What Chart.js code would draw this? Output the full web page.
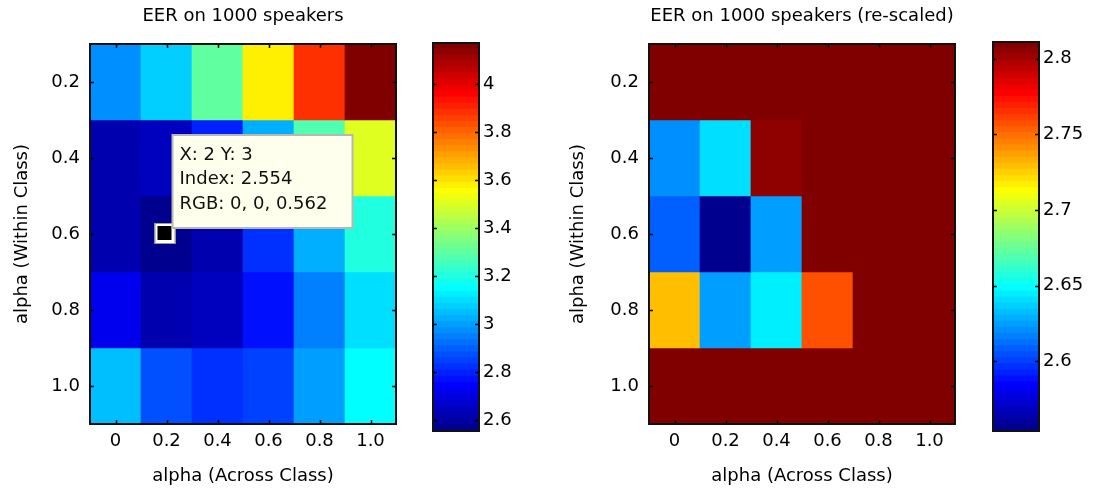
<!DOCTYPE html>
<html>
<head>
<meta charset="utf-8">
<title>EER on 1000 speakers</title>
<script src="https://cdn.jsdelivr.net/npm/chart.js@4.4.1/dist/chart.umd.min.js"></script>
<style>
  html, body { margin: 0; padding: 0; background: #fff; }
  #wrap { position: relative; width: 1093px; height: 491px; overflow: hidden; }
  .box { position: absolute; top: 0; height: 491px; }
</style>
</head>
<body>
<div id="wrap">
  <div class="box" style="left:0;width:420px"><canvas id="eer"></canvas></div>
  <div class="box" style="left:420px;width:120px"><canvas id="eerBar"></canvas></div>
  <div class="box" style="left:540px;width:440px"><canvas id="scaled"></canvas></div>
  <div class="box" style="left:980px;width:113px"><canvas id="scaledBar"></canvas></div>
</div>
<script>
// columns: alpha (Across Class), rows: alpha (Within Class)
const acrossLabels = ['0', '0.2', '0.4', '0.6', '0.8', '1.0'];
const withinValues = [0.2, 0.4, 0.6, 0.8, 1.0];
const withinLabels = ['0.2', '0.4', '0.6', '0.8', '1.0'];

// EER values, one array per alpha (Within Class) row
const eerWithin02 = [2.971, 3.060, 3.300, 3.580, 3.881, 4.172];
const eerWithin04 = [2.620, 2.640, 2.805, 3.010, 3.262, 3.490];
const eerWithin06 = [2.608, 2.554, 2.624, 2.825, 3.020, 3.190];
const eerWithin08 = [2.729, 2.624, 2.646, 2.757, 2.946, 3.085];
const eerWithin10 = [3.035, 2.860, 2.830, 2.850, 2.984, 3.148];

// colour limits and colorbar ticks
const fullLimits = [2.554, 4.172];
const scaledLimits = [2.554, 2.811];
const fullBarTicks = [2.6, 2.8, 3, 3.2, 3.4, 3.6, 3.8, 4];
const scaledBarTicks = [2.6, 2.65, 2.7, 2.75, 2.8];

// data tip on the left map
const tipCell = [1, 2]; // column, row
const tipLines = ['X: 2 Y: 3', 'Index: 2.554', 'RGB: 0, 0, 0.562'];

const rows = [eerWithin02, eerWithin04, eerWithin06, eerWithin08, eerWithin10];
const FONT = { family: '"DejaVu Sans", sans-serif', size: 18, weight: 'normal' };

// matlab jet(64)
function jet64(i) {
    const u = k => (k < 1 || k > 47) ? 0 : k <= 16 ? k / 16 : k <= 31 ? 1 : (48 - k) / 16;
    return [u(i - 24), u(i - 8), u(i + 8)];
}
function rgb(c) {
    return 'rgb(' + c.map(x => Math.round(x * 255)).join(',') + ')';
}
function colorFor(v, lim) {
    let i = Math.floor((v - lim[0]) / (lim[1] - lim[0]) * 64) + 1;
    i = Math.max(1, Math.min(64, i));
    return rgb(jet64(i));
}

// box round the axes + inward tick marks on all sides
const framePlugin = {
    id: 'frame',
    afterDatasetsDraw(chart) {
        const { ctx, chartArea: a } = chart;
        const L = 4;
        ctx.save();
        ctx.strokeStyle = '#000';
        ctx.lineWidth = 1.5;
        ctx.beginPath();
        Object.values(chart.scales).forEach(s => {
            if (!s.options.display) return;
            s.ticks.forEach((t, i) => {
                const p = Math.round(s.getPixelForTick(i)) + 0.5;
                if (s.isHorizontal()) {
                    ctx.moveTo(p, a.bottom); ctx.lineTo(p, a.bottom - L);
                    ctx.moveTo(p, a.top); ctx.lineTo(p, a.top + L);
                } else {
                    ctx.moveTo(a.left, p); ctx.lineTo(a.left + L, p);
                    ctx.moveTo(a.right, p); ctx.lineTo(a.right - L, p);
                }
            });
        });
        ctx.stroke();
        ctx.lineWidth = 2;
        ctx.strokeStyle = '#111';
        ctx.strokeRect(a.left, a.top, a.right - a.left, a.bottom - a.top);
        ctx.restore();
    }
};

const tipPlugin = {
    id: 'tip',
    afterDraw(chart) {
        const { ctx } = chart;
        const x = chart.scales.x.getPixelForValue(tipCell[0]);
        const y = chart.scales.y.getPixelForValue(withinValues[tipCell[1]]);
        ctx.save();
        // marker
        ctx.fillStyle = '#fffff0';
        ctx.fillRect(x - 12, y - 11, 21, 21);
        ctx.strokeStyle = '#9a9a90';
        ctx.lineWidth = 1;
        ctx.strokeRect(x - 11.5, y - 10.5, 20, 20);
        ctx.fillStyle = '#000';
        ctx.fillRect(x - 9, y - 8, 14, 14);
        // box
        const bx = x + 6, by = y - 99, bw = 180, bh = 93;
        ctx.fillStyle = '#ffffee';
        ctx.fillRect(bx, by, bw, bh);
        ctx.strokeStyle = '#b8b8b0';
        ctx.lineWidth = 2;
        ctx.strokeRect(bx, by, bw, bh);
        ctx.fillStyle = '#111';
        ctx.font = '18px "DejaVu Sans", sans-serif';
        ctx.textBaseline = 'middle';
        tipLines.forEach((line, i) => ctx.fillText(line, bx + 7, by + 20 + i * 24.5));
        ctx.restore();
    }
};

function heatmap(id, title, lim, yWidth, padRight, yTitlePad, extra) {
    return new Chart(document.getElementById(id), {
        type: 'bar',
        data: {
            labels: acrossLabels,
            datasets: rows.map((row, r) => ({
                data: row.map(() => [withinValues[r] - 0.1, withinValues[r] + 0.1]),
                backgroundColor: row.map(v => colorFor(v, lim)),
                grouped: false,
                barPercentage: 1,
                categoryPercentage: 1,
                borderWidth: 0
            }))
        },
        options: {
            responsive: true,
            maintainAspectRatio: false,
            animation: false,
            events: [],
            layout: { padding: { left: 0, right: padRight, top: 0, bottom: 0 } },
            plugins: {
                legend: { display: false },
                tooltip: { enabled: false },
                title: {
                    display: true, text: title, color: '#000', font: FONT,
                    fullSize: false, padding: { top: 6, bottom: 16.4 }
                }
            },
            scales: {
                x: {
                    type: 'category',
                    offset: true,
                    grid: { display: false, drawTicks: false },
                    border: { display: false },
                    ticks: { color: '#000', font: FONT, padding: 7, maxRotation: 0, autoSkip: false },
                    title: { display: true, text: 'alpha (Across Class)', color: '#000', font: FONT, padding: { top: 0, bottom: 4 } },
                    afterFit: s => { s.height = 67; }
                },
                y: {
                    type: 'linear',
                    reverse: true,
                    min: 0.1,
                    max: 1.1,
                    grid: { display: false, drawTicks: false },
                    border: { display: false },
                    afterBuildTicks: s => { s.ticks = withinValues.map(v => ({ value: v })); },
                    ticks: {
                        color: '#000', font: FONT, padding: 10,
                        callback: v => withinLabels[withinValues.findIndex(w => Math.abs(w - v) < 1e-6)]
                    },
                    title: { display: true, text: 'alpha (Within Class)', color: '#000', font: FONT, padding: { top: yTitlePad } },
                    afterFit: s => { s.width = yWidth; }
                }
            }
        },
        plugins: [framePlugin].concat(extra || [])
    });
}

function colorbar(id, lim, ticks, padLeft, padTop, axisWidth) {
    const bands = Array.from({ length: 64 }, (_, k) => k);
    const step = (lim[1] - lim[0]) / 64;
    return new Chart(document.getElementById(id), {
        type: 'bar',
        data: {
            labels: [''],
            datasets: bands.map(k => ({
                data: [[lim[0] + k * step, lim[0] + (k + 1) * step]],
                backgroundColor: rgb(jet64(k + 1)),
                grouped: false,
                barPercentage: 1,
                categoryPercentage: 1,
                borderWidth: 0,
                inflateAmount: 0.8
            }))
        },
        options: {
            responsive: true,
            maintainAspectRatio: false,
            animation: false,
            events: [],
            layout: { padding: { left: padLeft, right: 0, top: padTop, bottom: 60 } },
            plugins: { legend: { display: false }, tooltip: { enabled: false } },
            scales: {
                x: { display: false },
                y: {
                    position: 'right',
                    min: lim[0],
                    max: lim[1],
                    grid: { display: false, drawTicks: false },
                    border: { display: false },
                    afterBuildTicks: s => { s.ticks = ticks.map(v => ({ value: v })); },
                    ticks: { color: '#000', font: FONT, padding: 4, callback: v => String(+v.toFixed(2)) },
                    afterFit: s => { s.width = axisWidth; }
                }
            }
        },
        plugins: [framePlugin]
    });
}

heatmap('eer', 'EER on 1000 speakers', fullLimits, 90, 24, 12, [tipPlugin]);
colorbar('eerBar', fullLimits, fullBarTicks, 13, 43, 61);
heatmap('scaled', 'EER on 1000 speakers (re-scaled)', scaledLimits, 109, 25, 28);
colorbar('scaledBar', scaledLimits, scaledBarTicks, 13, 42, 54);
</script>
</body>
</html>
